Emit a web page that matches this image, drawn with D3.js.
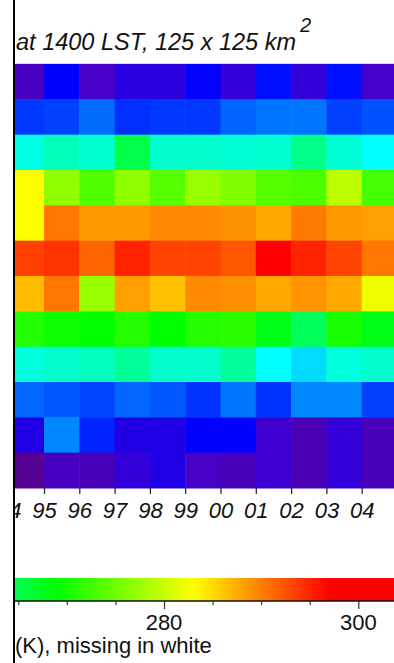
<!DOCTYPE html>
<html>
<head>
<meta charset="utf-8">
<script src="https://cdn.jsdelivr.net/npm/d3@7"></script>
<style>
  html, body { margin: 0; padding: 0; background: #fff; }
  svg { display: block; font-family: "Liberation Sans", Arial, Helvetica, sans-serif; }
</style>
</head>
<body>
<div id="chart"></div>
<script>
/* monthly mean temperature (K) at 1400 LST, one row per month, one value per year */
var years = [1994, 1995, 1996, 1997, 1998, 1999, 2000, 2001, 2002, 2003, 2004];
var yearLabels = ["94", "95", "96", "97", "98", "99", "00", "01", "02", "03", "04"];
var months = ["Jan", "Feb", "Mar", "Apr", "May", "Jun", "Jul", "Aug", "Sep", "Oct", "Nov", "Dec"];

var tJan = [228, 241, 228.5, 234, 233.5, 240.5, 232, 241.8, 232, 241.8, 229];
var tFeb = [244, 244.5, 247, 243.5, 244, 244, 246.5, 247.5, 247.5, 244.5, 245.5];
var tMar = [256.5, 258.9, 257.5, 265, 257.8, 257.8, 257.3, 257.5, 261.5, 257.3, 255];
var tApr = [283, 276.9, 273.4, 276.9, 273.7, 277.4, 276, 273.7, 273.2, 279.3, 272.7];
var tMay = [283, 290.5, 288.6, 288.6, 289.5, 289.5, 289, 287.7, 290.3, 288.6, 288.2];
var tJun = [293.5, 294.2, 291.4, 295.1, 293.3, 293.3, 292.3, 297, 295.1, 293.3, 290.5];
var tJul = [286.7, 290.5, 277.4, 288.2, 286.4, 289.5, 289.1, 287.7, 288.9, 287.7, 282.1];
var tAug = [270.8, 269.6, 269, 270.8, 269, 271, 271.3, 267.8, 264.1, 270.2, 267.8];
var tSep = [256.9, 257.8, 258.5, 260.6, 257.8, 257.8, 260.6, 255, 253.1, 256.9, 257.8];
var tOct = [246.6, 245.7, 244.7, 246.6, 245.7, 243.8, 247.5, 243.8, 248.5, 248.5, 244.5];
var tNov = [235, 248.5, 242.9, 235, 235, 241, 241, 230, 227, 232, 227.6];
var tDec = [224, 228, 227.5, 232, 235, 228.5, 227.6, 230, 227, 232, 227.6];
var monthRows = [tJan, tFeb, tMar, tApr, tMay, tJun, tJul, tAug, tSep, tOct, tNov, tDec];

// colour table (rainbow, dark purple -> red)
var cmapT = [224, 229, 241, 255, 269, 283, 297, 310];
var cmapC = ["#550090", "#4400cc", "#0000ff", "#00ffff", "#00ff00", "#ffff00", "#ff0000", "#ff0000"];

var barTicks = [265, 270, 275, 280, 285, 290, 295, 300];
var barLabels = [280, 300];

(function () {
  "use strict";

  var W = 394, H = 663;
  var clipX = 15;

  var color = d3.scaleLinear().domain(cmapT).range(cmapC).interpolate(d3.interpolateRgb).clamp(true);
  var x = d3.scaleLinear().domain([1995, 2004]).range([44, 361.7]);
  var y = d3.scaleBand().domain(months).range([64, 488]);
  var cx = d3.scaleLinear().domain([280, 300]).range([164, 358.3]);

  var svg = d3.select("#chart").append("svg")
    .attr("width", W).attr("height", H)
    .attr("viewBox", "0 0 " + W + " " + H);

  svg.append("clipPath").attr("id", "clip")
    .append("rect").attr("x", clipX).attr("y", 0).attr("width", W - clipX).attr("height", H);

  var g = svg.append("g").attr("clip-path", "url(#clip)");

  // --- title ---
  var title = svg.append("text")
    .attr("x", 16).attr("y", 50)
    .attr("font-size", 23.5).attr("font-style", "italic").attr("fill", "#111");
  title.append("tspan").text("at 1400 LST, 125 x 125 km");
  title.append("tspan").attr("dx", 4).attr("dy", -18).attr("font-size", 20).text("2");

  // --- heatmap cells ---
  var cells = [];
  monthRows.forEach(function (row, mi) {
    row.forEach(function (v, yi) { cells.push({ m: months[mi], yr: years[yi], v: v }); });
  });

  g.selectAll("rect.cell").data(cells).enter().append("rect")
    .attr("class", "cell")
    .attr("x", function (d) { return x(d.yr); })
    .attr("y", function (d) { return y(d.m); })
    .attr("width", x(1996) - x(1995) + 0.5)
    .attr("height", y.bandwidth() + 0.5)
    .attr("fill", function (d) { return color(d.v); });

  g.append("line")
    .attr("x1", clipX).attr("x2", W).attr("y1", 63.5).attr("y2", 63.5)
    .attr("stroke", "#ddd6f3").attr("stroke-width", 1);

  // --- year axis (ticks at year boundaries) ---
  var xAxis = g.append("g").attr("transform", "translate(0," + y.range()[1] + ")")
    .call(d3.axisBottom(x).tickValues(years).tickSize(6).tickPadding(8)
      .tickFormat(function (d, i) { return yearLabels[i]; }));
  xAxis.select(".domain").remove();
  xAxis.selectAll(".tick line").attr("stroke", "#222").attr("stroke-width", 1.2);
  xAxis.selectAll(".tick text")
    .attr("font-family", "Liberation Sans, Arial, sans-serif")
    .attr("font-size", 22).attr("font-style", "italic").attr("fill", "#111")
    .attr("dy", "0.71em");

  // --- colour bar ---
  var barY = 578, barH = 23;
  var px = d3.range(clipX, W + 1, 1);
  g.selectAll("rect.bar").data(px).enter().append("rect")
    .attr("class", "bar")
    .attr("x", function (d) { return d; })
    .attr("y", barY).attr("width", 1.5).attr("height", barH)
    .attr("fill", function (d) { return color(cx.invert(d + 0.5)); });

  var cAxis = g.append("g").attr("transform", "translate(0," + (barY + barH) + ")")
    .call(d3.axisBottom(cx).tickValues(barTicks).tickSizeOuter(0)
      .tickSize(4).tickFormat(""));
  cAxis.select(".domain").attr("stroke", "#111").attr("stroke-width", 1.5)
    .attr("d", "M" + clipX + ",0H" + W);
  cAxis.selectAll(".tick line").attr("stroke", "#333").attr("stroke-width", 1.2)
    .attr("y2", function (d) { return barLabels.indexOf(d) >= 0 ? 8 : 4; });

  svg.selectAll("text.blab").data(barLabels).enter().append("text")
    .attr("class", "blab")
    .attr("x", function (d) { return cx(d); })
    .attr("y", 630)
    .attr("text-anchor", "middle")
    .attr("font-size", 22).attr("fill", "#111")
    .text(function (d) { return d; });

  svg.append("text")
    .attr("x", 15).attr("y", 653)
    .attr("font-size", 22).attr("fill", "#111")
    .text("(K), missing in white");

  // left frame line
  svg.append("rect").attr("x", 13).attr("y", 0).attr("width", 2).attr("height", H).attr("fill", "#000");
})();
</script>
</body>
</html>
